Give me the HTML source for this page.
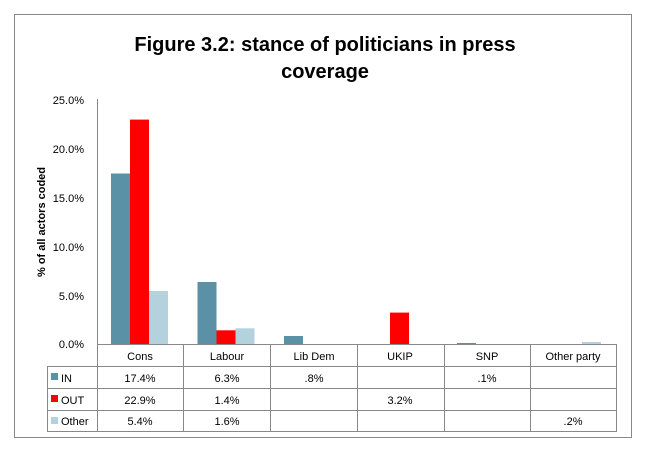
<!DOCTYPE html>
<html><head><style>
body{margin:0;background:#fff;}
svg text{font-family:"Liberation Sans",sans-serif;}
</style></head><body>
<svg width="648" height="447" xmlns="http://www.w3.org/2000/svg">
<rect x="0" y="0" width="648" height="447" fill="#fff"/>
<rect x="14.5" y="14.5" width="617" height="423" fill="none" stroke="#888" stroke-width="1"/>
<text x="325" y="51" text-anchor="middle" font-size="20" font-weight="bold">Figure 3.2: stance of politicians in press</text>
<text x="325" y="78" text-anchor="middle" font-size="20" font-weight="bold">coverage</text>
<g font-size="11" fill="#000" text-anchor="end">
<text x="84" y="104">25.0%</text>
<text x="84" y="153">20.0%</text>
<text x="84" y="202">15.0%</text>
<text x="84" y="251">10.0%</text>
<text x="84" y="300">5.0%</text>
<text x="84" y="348">0.0%</text>
</g>
<text transform="translate(45,222) rotate(-90)" text-anchor="middle" font-size="11" font-weight="bold">% of all actors coded</text>
<line x1="97.5" y1="99" x2="97.5" y2="366" stroke="#888"/>
<!-- bars -->
<g>
<rect x="111" y="173.5" width="19" height="170.5" fill="#5A91A6"/>
<rect x="130" y="119.6" width="19" height="224.4" fill="#FF0000"/>
<rect x="149" y="291" width="19" height="53" fill="#B4D2DE"/>
<rect x="197.5" y="282" width="19" height="62" fill="#5A91A6"/>
<rect x="216.5" y="330.3" width="19" height="13.7" fill="#FF0000"/>
<rect x="235.5" y="328.3" width="19" height="15.7" fill="#B4D2DE"/>
<rect x="284" y="336" width="19" height="8" fill="#5A91A6"/>
<rect x="390" y="312.6" width="19" height="31.4" fill="#FF0000"/>
<rect x="457" y="343" width="19" height="1" fill="#5A91A6"/>
<rect x="582" y="342" width="19" height="2" fill="#B4D2DE"/>
</g>
<!-- table -->
<g stroke="#888" stroke-width="1" fill="none">
<line x1="97" y1="344.5" x2="617" y2="344.5"/>
<line x1="47" y1="366.5" x2="617" y2="366.5"/>
<line x1="47" y1="388.5" x2="617" y2="388.5"/>
<line x1="47" y1="410.5" x2="617" y2="410.5"/>
<line x1="47" y1="431.5" x2="617" y2="431.5"/>
<line x1="47.5" y1="366" x2="47.5" y2="432"/>
<line x1="97.5" y1="344" x2="97.5" y2="432"/>
<line x1="183.5" y1="344" x2="183.5" y2="432"/>
<line x1="270.5" y1="344" x2="270.5" y2="432"/>
<line x1="357.5" y1="344" x2="357.5" y2="432"/>
<line x1="444.5" y1="344" x2="444.5" y2="432"/>
<line x1="530.5" y1="344" x2="530.5" y2="432"/>
<line x1="616.5" y1="344" x2="616.5" y2="432"/>
</g>
<g font-size="11" text-anchor="middle">
<text x="140" y="360">Cons</text>
<text x="227" y="360">Labour</text>
<text x="314" y="360">Lib Dem</text>
<text x="400" y="360">UKIP</text>
<text x="487" y="360">SNP</text>
<text x="573" y="360">Other party</text>
<text x="140" y="382">17.4%</text>
<text x="227" y="382">6.3%</text>
<text x="314" y="382">.8%</text>
<text x="487" y="382">.1%</text>
<text x="140" y="404">22.9%</text>
<text x="227" y="404">1.4%</text>
<text x="400" y="404">3.2%</text>
<text x="140" y="425">5.4%</text>
<text x="227" y="425">1.6%</text>
<text x="573" y="425">.2%</text>
</g>
<rect x="51" y="373" width="7" height="7" fill="#5A91A6"/>
<rect x="51" y="395" width="7" height="7" fill="#FF0000"/>
<rect x="51" y="417" width="7" height="7" fill="#B4D2DE"/>
<g font-size="11">
<text x="61" y="382">IN</text>
<text x="61" y="404">OUT</text>
<text x="61" y="425">Other</text>
</g>
</svg>
</body></html>
